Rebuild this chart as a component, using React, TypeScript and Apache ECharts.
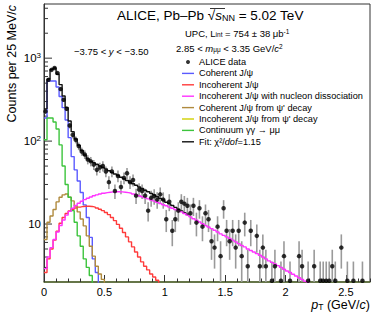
import React, { useEffect, useRef } from 'react';
import * as echarts from 'echarts';

const FONT = '"Liberation Sans", Arial, Helvetica, sans-serif';
const BIN_WIDTH = 0.025;

// ALICE data: bin centres (GeV/c), counts per 25 MeV/c, stat. errors
const dataPt = [
  0.0125, 0.0375, 0.0625, 0.0875, 0.1125, 0.1375, 0.1625, 0.1875, 0.2125, 0.2375,
  0.2625, 0.2875, 0.3125, 0.3375, 0.3625, 0.3875, 0.4125, 0.4375, 0.4625, 0.4875,
  0.5125, 0.5375, 0.5625, 0.5875, 0.6125, 0.6375, 0.6625, 0.6875, 0.7125, 0.7375,
  0.7625, 0.7875, 0.8125, 0.8375, 0.8625, 0.8875, 0.9125, 0.9375, 0.9625, 0.9875,
  1.0125, 1.0375, 1.0625, 1.0875, 1.1125, 1.1375, 1.1625, 1.1875, 1.2125, 1.2375,
  1.2625, 1.2875, 1.3125, 1.3375, 1.3625, 1.3875, 1.4125, 1.4375, 1.4625, 1.4875,
  1.5125, 1.5375, 1.5625, 1.5875, 1.6125, 1.6375, 1.6625, 1.6875, 1.7125, 1.7625,
  1.7875, 1.8125, 1.8375, 1.8875, 1.9125, 1.9625, 1.9875, 2.0375, 2.1125, 2.1375,
  2.1875, 2.2375, 2.2875, 2.3125, 2.3375, 2.3625, 2.3875, 2.4125, 2.4625, 2.5125,
  2.5625, 2.6375,
];
const dataCounts = [
  228, 548, 723, 760, 661, 424, 315, 245, 154, 119,
  104, 87, 75, 69, 60, 57, 52, 45, 48, 50,
  43, 32, 43, 25, 38, 28, 36, 41, 32, 34,
  22, 26, 25, 22, 14.5, 20.7, 21.7, 19.7, 22.8, 19.7,
  11.4, 18.6, 8.3, 11.4, 14.5, 18.6, 17.6, 16.6, 13.5, 16.6,
  10.4, 15.5, 9.3, 13.5, 11.4, 6.2, 5.2, 9.3, 4.1, 15.5,
  8.3, 6.2, 8.3, 5.2, 8.3, 4.1, 10.4, 3.1, 8.3, 7.2,
  3.1, 5.2, 3.1, 2.07, 3.1, 2.07, 4.1, 2.07, 4.1, 3.1,
  2.07, 3.1, 2.07, 2.07, 2.07, 2.07, 3.1, 2.07, 5.2, 2.07,
  2.07, 2.07,
];
const dataErr = [
  15, 23, 26, 27, 25, 20, 17, 15, 12, 11,
  10, 9.2, 8.5, 8.2, 7.6, 7.4, 7.1, 6.6, 6.8, 7,
  6.4, 5.6, 6.4, 4.9, 6.1, 5.2, 5.9, 6.3, 5.6, 5.7,
  4.6, 5, 4.9, 4.6, 3.8, 4.5, 4.6, 4.4, 4.8, 4.4,
  3.4, 4.3, 2.9, 3.4, 3.8, 4.3, 4.2, 4.1, 3.7, 4.1,
  3.3, 3.9, 3.1, 3.7, 3.4, 2.5, 2.3, 3.1, 2.1, 3.9,
  2.9, 2.5, 2.9, 2.3, 2.9, 2.1, 3.3, 1.8, 2.9, 2.7,
  1.8, 2.3, 1.8, 1.46, 1.8, 1.46, 2.1, 1.46, 2.1, 1.8,
  1.46, 1.8, 1.46, 1.46, 1.46, 1.46, 1.8, 1.46, 2.3, 1.46,
  1.46, 1.46,
];

// Model templates, 25 MeV/c bins starting at pT = 0
const coherentJpsi = [190, 530, 530, 530, 450, 345, 253, 180, 110, 65, 45, 33, 24, 17, 12, 6.9, 3.8, 2.6, 1.5];
const incoherentJpsi = [
  2.6, 3.8, 5.0, 6.4, 8.2, 10.2, 12.0, 13.4, 14.4, 15.1, 15.6, 16.0, 16.3, 16.4, 16.4, 16.3,
  16.0, 15.6, 15.1, 14.5, 13.8, 13.0, 12.0, 11.0, 9.9, 8.9, 7.9, 7.0, 6.1, 5.3, 4.6, 4.0,
  3.5, 3.1, 2.8, 2.5, 2.3, 2.1, 1.8,
];
const incoherentDissociation = [
  2.9, 4.0, 5.2, 6.5, 8.0, 9.6, 11.2, 12.8, 14.2, 15.5, 16.7, 17.8, 18.8, 19.7, 20.5, 21.2,
  21.9, 22.5, 23.0, 23.5, 23.9, 24.2, 24.4, 24.5, 24.5, 24.4, 24.2, 23.9, 23.5, 23.0, 22.5, 21.9,
  21.3, 20.7, 20.1, 19.5, 18.9, 18.3, 17.7, 17.1, 16.6, 16.0, 15.5, 15.0, 14.5, 14.0, 13.4, 12.8,
  12.2, 11.6, 11.1, 10.6, 10.1, 9.6, 9.2, 8.8, 8.4, 8.0, 7.6, 7.3, 7.0, 6.7, 6.4, 6.1,
  5.8, 5.5, 5.3, 5.0, 4.8, 4.6, 4.4, 4.2, 4.0, 3.8, 3.6, 3.45, 3.3, 3.15, 3.0, 2.85,
  2.72, 2.6, 2.48, 2.36, 2.25, 2.14, 2.04, 1.95, 1.86,
];
const coherentFromPsi2S = [6.5, 10.5, 12.5, 15, 18.5, 21, 22.5, 23, 21, 19, 16.5, 14, 11.5, 9.5, 7.2, 5.4, 4.1, 3.1, 2.5, 2.15, 1.5];
const incoherentFromPsi2S = [
  0.3, 0.5, 0.65, 0.8, 0.95, 1.05, 1.15, 1.25, 1.3, 1.35, 1.4, 1.4, 1.4, 1.38, 1.35, 1.3,
  1.25, 1.2, 1.1, 1.0, 0.9, 0.8, 0.7, 0.6, 0.5, 0.42, 0.35, 0.28, 0.22, 0.17,
];
const continuumGG = [104, 190, 190, 170, 140, 90, 50, 30, 21, 14.5, 10.5, 7.2, 5.4, 3.8, 3.0, 2.4, 1.5];
const fitTotal = [
  245, 560, 730, 760, 640, 480, 350, 255, 175, 130, 106, 89, 77, 68, 61, 57,
  55, 52.6, 50.3, 48.1, 46, 43.9, 42, 40.1, 38.4, 36.7, 35.1, 33.5, 32.0, 30.6, 29.3, 28,
  26.8, 25.6, 24.5, 23.4, 22.4, 21.4, 20.4, 19.5, 18.3, 17.5, 16.7, 15.9, 15.1, 14.4, 13.7, 13.1,
];

// Axis ticks
const yMajorTicks = [10, 100, 1000];
const yMinorTicks = [3, 4, 5, 6, 7, 8, 9, 20, 30, 40, 50, 60, 70, 80, 90, 200, 300, 400, 500, 600, 700, 800, 900, 2000, 3000, 4000];

const legendNames = [
  'ALICE data',
  'Coherent J/ψ',
  'Incoherent J/ψ',
  'Incoherent J/ψ with nucleon dissociation',
  "Coherent J/ψ from ψ' decay",
  "Incoherent J/ψ from ψ' decay",
  'Continuum γγ → μμ',
  'Fit: χ²/dof=1.15',
];

const LINE_ICON = 'path://M0,0H12V1.4H0Z';

function hist(vals: number[]) {
  const pts: number[][] = vals.map((v, i) => [i * BIN_WIDTH, v]);
  pts.push([vals.length * BIN_WIDTH, vals[vals.length - 1]]);
  return pts;
}

function lineSeries(name: string, vals: number[], color: string, z: number) {
  return {
    name,
    type: 'line',
    step: 'end',
    data: hist(vals),
    symbol: 'none',
    showSymbol: false,
    clip: true,
    silent: true,
    z,
    lineStyle: { color, width: 1.4 },
    itemStyle: { color },
  };
}

export default function App() {
  const ref = useRef<HTMLDivElement>(null);
  useEffect(() => {
    if (!ref.current) return;
    const chart = echarts.init(ref.current, undefined, { renderer: 'svg' });
    const tickData = [
      ...yMajorTicks.map((v) => [0, v, 8]),
      ...yMinorTicks.map((v) => [0, v, 4]),
    ];
    const option: any = {
      animation: false,
      backgroundColor: '#ffffff',
      textStyle: { fontFamily: FONT },
      grid: {
        left: 44, right: 4, top: 4, bottom: 35,
        show: true, borderColor: '#333', borderWidth: 1, backgroundColor: 'transparent',
      },
      xAxis: [
        {
          type: 'value', min: 0, max: 2.7, interval: 0.5, position: 'bottom',
          axisLine: { show: true, onZero: false, lineStyle: { color: '#556b2f', width: 1.5 } },
          axisTick: { show: true, inside: true, length: 7, lineStyle: { color: '#333' } },
          axisLabel: {
            margin: 4, fontSize: 11, color: '#000', fontFamily: FONT, showMaxLabel: false,
            formatter: (v: number) => (v > 2.6 ? '' : String(v)),
          },
          splitLine: { show: false },
        },
        {
          type: 'value', min: 0, max: 2.7, interval: 0.1, position: 'bottom',
          axisLine: { show: false, onZero: false },
          axisTick: { show: true, inside: true, length: 3.5, lineStyle: { color: '#333' } },
          axisLabel: { show: false },
          splitLine: { show: false },
        },
      ],
      yAxis: {
        type: 'log', logBase: 10, min: 2, max: 4500,
        axisLine: { show: true, onZero: false, lineStyle: { color: '#333', width: 1 } },
        axisTick: { show: false },
        axisLabel: {
          margin: 3, fontSize: 11.5, color: '#000', fontFamily: FONT, lineHeight: 14,
          formatter: (v: number) => {
            const e = Math.log10(v);
            const r = Math.round(e);
            if (Math.abs(e - r) > 1e-6) return '';
            if (r === 1) return '10';
            return `10{sup|${r}}`;
          },
          rich: { sup: { fontSize: 8, verticalAlign: 'top', fontFamily: FONT, color: '#000', lineHeight: 14 } },
        },
        splitLine: { show: false },
      },
      legend: {
        orient: 'vertical', left: 177, top: 52,
        itemWidth: 12, itemHeight: 4, itemGap: 1.4,
        selectedMode: false,
        textStyle: {
          fontSize: 9.2, lineHeight: 10, color: '#000', fontFamily: FONT,
          rich: {
            it: { fontSize: 9.2, fontStyle: 'italic', fontFamily: FONT, color: '#000' },
          },
        },
        formatter: (name: string) => (name.startsWith('Fit') ? 'Fit: χ²/{it|dof}=1.15' : name),
        data: legendNames.map((n, i) => (i === 0 ? { name: n, icon: 'circle' } : { name: n, icon: LINE_ICON })),
      },
      graphic: [
        {
          type: 'text', x: 117, y: 15,
          style: {
            text: 'ALICE, Pb–Pb √{it|s}{sub|NN} = 5.02 TeV',
            fontSize: 13.5, fontFamily: FONT, fill: '#000', verticalAlign: 'middle',
            rich: {
              it: { fontSize: 13.5, fontStyle: 'italic', fontFamily: FONT },
              sub: { fontSize: 9, fontFamily: FONT, verticalAlign: 'bottom' },
            },
          },
        },
        {
          type: 'line',
          shape: { x1: 210, y1: 8.5, x2: 225, y2: 8.5 },
          style: { stroke: '#000', lineWidth: 0.8 },
        },
        {
          type: 'text', x: 185, y: 33,
          style: {
            text: 'UPC, L{sub|int} = 754 ± 38 μb{sup|-1}',
            fontSize: 9.5, fontFamily: FONT, fill: '#000', verticalAlign: 'middle',
            rich: {
              sub: { fontSize: 6.5, fontFamily: FONT, verticalAlign: 'bottom' },
              sup: { fontSize: 6.5, fontFamily: FONT, verticalAlign: 'top' },
            },
          },
        },
        {
          type: 'text', x: 176, y: 48,
          style: {
            text: '2.85 < {it|m}{sub|μμ} < 3.35 GeV/{it|c}{sup|2}',
            fontSize: 9.5, fontFamily: FONT, fill: '#000', verticalAlign: 'middle',
            rich: {
              it: { fontSize: 9.5, fontStyle: 'italic', fontFamily: FONT },
              sub: { fontSize: 6.5, fontFamily: FONT, verticalAlign: 'bottom' },
              sup: { fontSize: 6.5, fontFamily: FONT, verticalAlign: 'top' },
            },
          },
        },
        {
          type: 'text', x: 74, y: 51,
          style: {
            text: '−3.75 < {it|y} < −3.50',
            fontSize: 9.5, fontFamily: FONT, fill: '#000', verticalAlign: 'middle',
            rich: { it: { fontSize: 9.5, fontStyle: 'italic', fontFamily: FONT } },
          },
        },
        {
          type: 'text', x: 12, y: 5, rotation: Math.PI / 2,
          style: {
            text: 'Counts per 25 MeV/{it|c}',
            fontSize: 12.5, fontFamily: FONT, fill: '#000', align: 'right', verticalAlign: 'middle',
            rich: { it: { fontSize: 12.5, fontStyle: 'italic', fontFamily: FONT } },
          },
        },
        {
          type: 'text', x: 370, y: 305,
          style: {
            text: '{it|p}{sub|T} (GeV/{it|c})',
            fontSize: 12.5, fontFamily: FONT, fill: '#000', align: 'right', verticalAlign: 'middle',
            rich: {
              it: { fontSize: 12.5, fontStyle: 'italic', fontFamily: FONT },
              sub: { fontSize: 8.5, fontFamily: FONT, verticalAlign: 'bottom' },
            },
          },
        },
      ],
      series: [
        {
          name: 'errbars', type: 'custom', xAxisIndex: 0, yAxisIndex: 0, z: 2, silent: true,
          data: dataPt.map((x, i) => [x, dataCounts[i] - dataErr[i], dataCounts[i] + dataErr[i]]),
          encode: { x: 0, y: [1, 2] },
          renderItem: (params: any, api: any) => {
            const cs = params.coordSys;
            const x = api.value(0);
            const lo = api.coord([x, api.value(1)]);
            const hi = api.coord([x, api.value(2)]);
            const bottom = cs.y + cs.height;
            const y1 = Math.min(lo[1], bottom);
            const y2 = Math.max(hi[1], cs.y);
            if (y2 >= bottom) return null;
            return {
              type: 'line',
              shape: { x1: lo[0], y1, x2: lo[0], y2 },
              style: { stroke: '#9a9a9a', lineWidth: 1.6 },
            };
          },
        },
        {
          name: 'yticks', type: 'custom', xAxisIndex: 0, yAxisIndex: 0, z: 1, silent: true,
          data: tickData,
          encode: { x: 0, y: 1 },
          renderItem: (params: any, api: any) => {
            const cs = params.coordSys;
            const p = api.coord([0, api.value(1)]);
            return {
              type: 'line',
              shape: { x1: cs.x, y1: p[1], x2: cs.x + api.value(2), y2: p[1] },
              style: { stroke: '#333', lineWidth: 1 },
            };
          },
        },
        lineSeries('Coherent J/ψ', coherentJpsi, '#5a5aff', 3),
        lineSeries('Incoherent J/ψ', incoherentJpsi, '#ff3b3b', 3),
        lineSeries("Coherent J/ψ from ψ' decay", coherentFromPsi2S, '#b08a3e', 3),
        lineSeries("Incoherent J/ψ from ψ' decay", incoherentFromPsi2S, '#d0d000', 3),
        lineSeries('Continuum γγ → μμ', continuumGG, '#3cc43c', 3),
        lineSeries('Fit: χ²/dof=1.15', fitTotal, '#111111', 4),
        lineSeries('Incoherent J/ψ with nucleon dissociation', incoherentDissociation, '#ff33ff', 5),
        {
          name: 'ALICE data', type: 'scatter', z: 6, silent: true,
          data: dataPt.map((x, i) => [x, dataCounts[i]]),
          symbol: 'circle', symbolSize: 4.5,
          itemStyle: { color: '#000' },
          clip: true,
        },
      ],
    };
    chart.setOption(option);
    return () => chart.dispose();
  }, []);
  return (
    <div
      ref={ref}
      style={{ position: 'absolute', left: 0, top: 0, width: 374, height: 317, background: '#fff' }}
    />
  );
}
